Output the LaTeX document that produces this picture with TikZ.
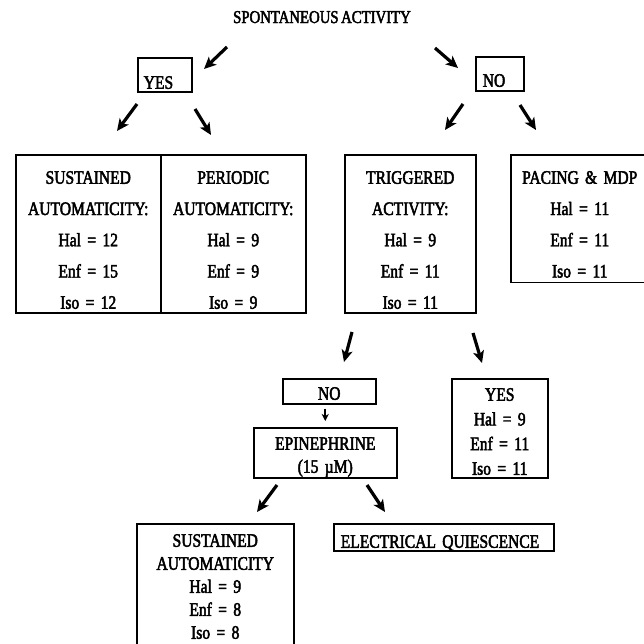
\documentclass[tikz,border=0pt]{standalone}
\usepackage{fontspec}
\setmainfont{Liberation Serif}[FakeStretch=0.82,FakeBold=2.5,WordSpace=0.7]
\usepackage{tikz}
\usetikzlibrary{arrows.meta}

\tikzset{
    box/.style={draw, line width=1.5pt, inner xsep=0pt, inner ysep=0pt, align=center, anchor=north west, font=\fontsize{19}{31.25}\selectfont},
    pad/.style 2 args={execute at begin node={\rule{0pt}{#1pt}}, execute at end node={\rule[-#2pt]{0pt}{0pt}}},
    arr/.style={line width=3.2pt, -{Stealth[length=12pt, width=11pt, inset=3pt]}},
    tick/.style={line width=1.8pt, -{Stealth[length=7pt, width=7pt, inset=2pt]}},
}

\begin{document}
\begin{tikzpicture}[x=1pt, y=-1pt]
    \path[use as bounding box, clip] (0,0) rectangle (644,643);

    \node[font=\fontsize{18}{20}\selectfont, anchor=base] (title) at (322,23) {SPONTANEOUS ACTIVITY};
    \node[box, pad={31}{3}, inner xsep=6pt, text width=42pt, align=left] (yes) at (137,57) {YES};
    \node[box, pad={30}{4}, inner xsep=7pt, text width=34pt, align=left] (no) at (475,56) {NO};
    \node[box, pad={29}{4}, text width=145pt] (sus) at (15,154) {SUSTAINED\\AUTOMATICITY:\\Hal = 12\\Enf = 15\\Iso = 12};
    \node[box, pad={29}{4}, text width=145pt] (per) at (160,154) {PERIODIC\\AUTOMATICITY:\\Hal = 9\\Enf = 9\\Iso = 9};
    \node[box, pad={29}{4}, text width=131pt] (trig) at (344,154) {TRIGGERED\\ACTIVITY:\\Hal = 9\\Enf = 11\\Iso = 11};
    \node[box, pad={29}{5}, text width=138pt] (pace) at (510,154) {PACING \& MDP\\Hal = 11\\Enf = 11\\Iso = 11};
    \node[box, pad={21}{4}, text width=93pt] (tno) at (282,378) {NO};
    \node[box, pad={22}{5}, text width=143pt, font=\fontsize{19}{23}\selectfont] (epi) at (253,427) {EPINEPHRINE\\(15 µM)};
    \node[box, pad={22}{3}, text width=96pt, font=\fontsize{19}{24.67}\selectfont] (tyes) at (451,378) {YES\\Hal = 9\\Enf = 11\\Iso = 11};
    \node[box, pad={23}{22}, text width=157pt, font=\fontsize{19}{23}\selectfont] (sus2) at (136,523) {SUSTAINED\\AUTOMATICITY\\Hal = 9\\Enf = 8\\Iso = 8};
    \node[box, pad={24}{3}, inner xsep=7pt, text width=206pt, align=left] (quie) at (333,523) {ELECTRICAL QUIESCENCE};

    \coordinate (ys) at (227,47);
    \coordinate (ye) at (204,69);
    \coordinate (ns) at (435,48);
    \coordinate (ne) at (458,68);
    \coordinate (yls) at (137,104);
    \coordinate (yle) at (117,131);
    \coordinate (yrs) at (195,109);
    \coordinate (yre) at (211,135);
    \coordinate (nls) at (463,104);
    \coordinate (nle) at (445,130);
    \coordinate (nrs) at (520,105);
    \coordinate (nre) at (536,130);
    \coordinate (tls) at (352,332);
    \coordinate (tle) at (344,362);
    \coordinate (trs) at (473,333);
    \coordinate (tre) at (482,363);
    \coordinate (els) at (277,485);
    \coordinate (ele) at (257,512);
    \coordinate (ers) at (367,485);
    \coordinate (ere) at (385,512);

    \draw[arr] (ys) -- (ye);
    \draw[arr] (ns) -- (ne);
    \draw[arr] (yls) -- (yle);
    \draw[arr] (yrs) -- (yre);
    \draw[arr] (nls) -- (nle);
    \draw[arr] (nrs) -- (nre);
    \draw[arr] (tls) -- (tle);
    \draw[arr] (trs) -- (tre);
    \draw[tick, shorten <=4pt, shorten >=6pt] (epi.north |- tno.south) -- (epi.north);
    \draw[arr] (els) -- (ele);
    \draw[arr] (ers) -- (ere);
\end{tikzpicture}
\end{document}
